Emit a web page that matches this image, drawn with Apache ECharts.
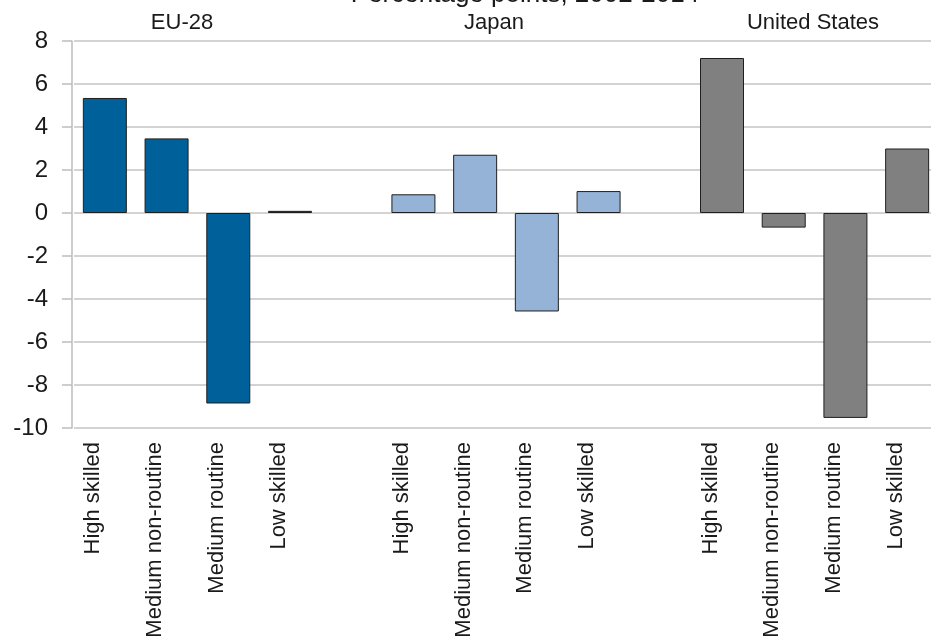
<!DOCTYPE html>
<html>
<head>
<meta charset="utf-8">
<script src="https://cdn.jsdelivr.net/npm/echarts@6/dist/echarts.min.js"></script>
<style>html,body{margin:0;padding:0;background:#fff;}#c{width:931px;height:636px;}</style>
</head>
<body>
<div id="c"></div>
<script>
const categories = ['High skilled','Medium non-routine','Medium routine','Low skilled','',
                    'High skilled','Medium non-routine','Medium routine','Low skilled','',
                    'High skilled','Medium non-routine','Medium routine','Low skilled'];
const euValues    = [5.35, 3.47, -8.86, 0.1, null, null, null, null, null, null, null, null, null, null];
const japanValues = [null, null, null, null, null, 0.87, 2.71, -4.58, 1.02, null, null, null, null, null];
const usValues    = [null, null, null, null, null, null, null, null, null, null, 7.21, -0.68, -9.53, 3.0];
const groupNames = ['EU-28', 'Japan', 'United States'];
const titleText = 'Percentage points, 2002-2014';
const yTicks = { min: -10, max: 8, interval: 2 };

const FONT = '"Liberation Sans", Arial, sans-serif';
const chart = echarts.init(document.getElementById('c'), null, {renderer: 'canvas'});
const barStyle = (c) => ({ color: c, borderColor: '#1f1f1f', borderWidth: 1 });
chart.setOption({
  animation: false,
  backgroundColor: '#ffffff',
  grid: { left: 74, top: 41, bottom: 208, width: 864, containLabel: false, outerBoundsMode: 'none' },
  xAxis: {
    type: 'category',
    data: categories,
    axisLine: { show: false, onZero: false },
    axisTick: { show: false },
    axisLabel: {
      rotate: 90, interval: 0, margin: 14,
      fontFamily: FONT, fontSize: 22, color: '#1a1a1a',
      verticalAlign: 'bottom', lineHeight: 23
    },
    splitLine: { show: false }
  },
  yAxis: {
    type: 'value', min: yTicks.min, max: yTicks.max, interval: yTicks.interval,
    offset: 2,
    axisLine: { show: true, lineStyle: { color: '#bdbdbd', width: 1.5 } },
    axisTick: { show: true, length: 10, lineStyle: { color: '#bdbdbd', width: 1.5 } },
    axisLabel: { margin: 24, fontFamily: FONT, fontSize: 24, color: '#1a1a1a' },
    splitLine: { show: true, lineStyle: { color: '#c4c4c4', width: 1.5 } }
  },
  series: [
    { name: groupNames[0], type: 'bar', stack: 't', data: euValues, barWidth: 44, itemStyle: barStyle('#00609a') },
    { name: groupNames[1], type: 'bar', stack: 't', data: japanValues, barWidth: 44, itemStyle: barStyle('#95b3d7') },
    { name: groupNames[2], type: 'bar', stack: 't', data: usValues, barWidth: 44, itemStyle: barStyle('#808080') }
  ],
  graphic: [
    { type: 'text', style: { text: titleText, x: 525, y: 8, align: 'center', verticalAlign: 'bottom', font: '26px ' + FONT, fill: '#1a1a1a' } },
    { type: 'text', style: { text: groupNames[0], x: 182, y: 23, align: 'center', verticalAlign: 'middle', font: '22px ' + FONT, fill: '#1a1a1a' } },
    { type: 'text', style: { text: groupNames[1], x: 494, y: 23, align: 'center', verticalAlign: 'middle', font: '22px ' + FONT, fill: '#1a1a1a' } },
    { type: 'text', style: { text: groupNames[2], x: 813, y: 23, align: 'center', verticalAlign: 'middle', font: '22px ' + FONT, fill: '#1a1a1a' } }
  ]
});
</script>
</body>
</html>
